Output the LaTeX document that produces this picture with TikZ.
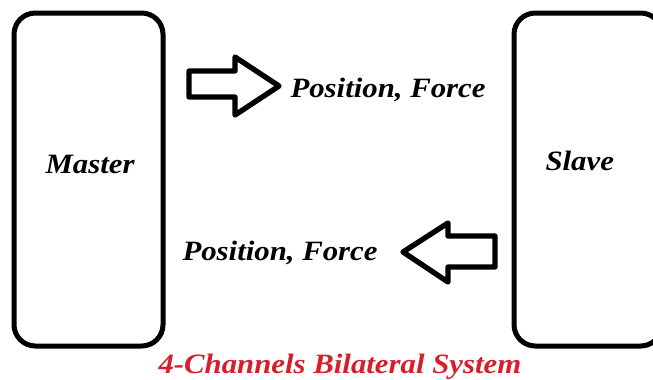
\documentclass[tikz,border=0pt]{standalone}
\usepackage{fontspec}
\setmainfont{Liberation Serif}
\newfontfamily\labelfont[FakeStretch=1.1]{Liberation Serif}
\definecolor{captionred}{RGB}{216,30,45}
\tikzset{every picture/.style={line width=0.75pt}}
\tikzset{
  blockline/.style={line width=3.75, rounded corners=16},
  arrowline/.style={line width=4, line join=round},
  label/.style={font=\labelfont\fontsize{21}{25}\selectfont\bfseries\itshape, inner sep=0pt}
}
\begin{document}
\begin{tikzpicture}[x=0.75pt,y=0.75pt,yscale=-1,xscale=1]
	\useasboundingbox (0,0) rectangle (653,379);
	\clip (0,0) rectangle (653,379);

	%Rounded Rect: Master block
	\draw [blockline] (14,13) rectangle (163,346) ;
	%Rounded Rect: Slave block
	\draw [blockline] (514,13) rectangle (662,346) ;

	%Shape: Right Arrow
	\draw [arrowline] (189,71) -- (235,71) -- (235,57) -- (279,86) -- (235,115) -- (235,97) -- (189,97) -- cycle ;
	%Shape: Left Arrow
	\draw [arrowline] (495,236) -- (448,236) -- (448,223) -- (403,252) -- (448,282) -- (448,267) -- (495,267) -- cycle ;

	% Text Node
	\node [label, anchor=base west] (master) at (45,173) {Master};
	% Text Node
	\node [label, anchor=base west] (slave) at (545,170) {Slave};
	% Text Node
	\node [label, anchor=base west] (posforceA) at (290,97) {Position, Force};
	% Text Node
	\node [label, anchor=base west] (posforceB) at (182,260) {Position, Force};
	% Text Node
	\node [label, anchor=base west, text=captionred] (caption) at (158,373) {4-Channels Bilateral System};

\end{tikzpicture}
\end{document}
